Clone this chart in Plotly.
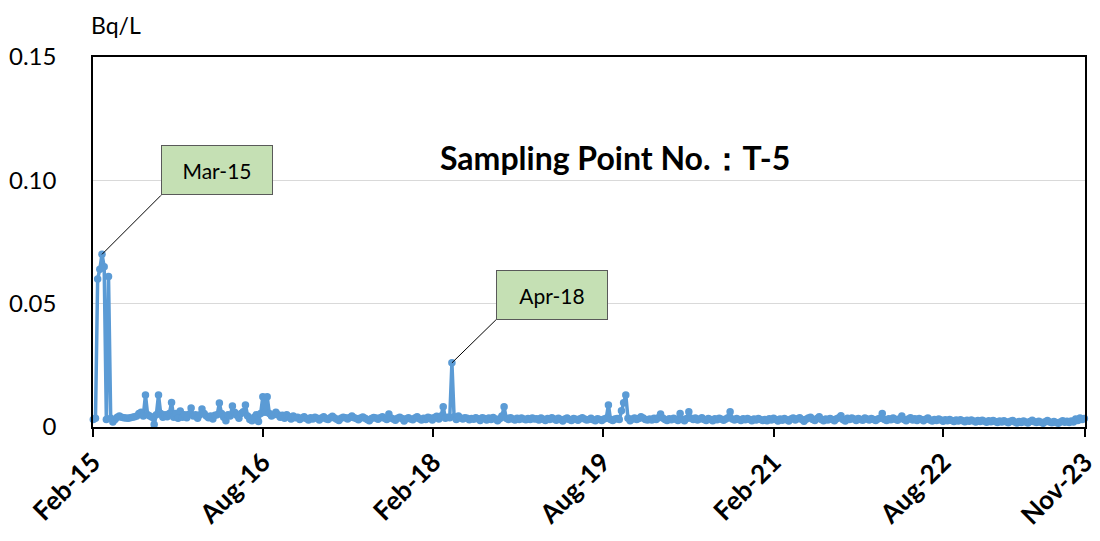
import numpy as np
import pandas as pd
import plotly.graph_objects as go

# Weekly readings in mBq/L, one block per calendar year (block start date, values)
v2015 = [3.0, 3.5, 60, 64, 70, 65, 3.0, 61, 3.5, 2.0, 3.0, 4.0, 4.5, 4.0, 3.8, 3.6,
         3.5, 3.8, 4.0, 4.2, 4.5, 5.5, 6.0, 4.5, 13.0, 5.0, 4.5, 4.0, 1.0, 5.0, 13.0, 5.5,
         4.0, 5.0, 4.2, 5.5, 9.9, 4.0, 5.5, 3.5, 6.5, 4.0, 5.0, 3.8, 5.2, 7.7, 4.5, 5.0]
v2016 = [3.5, 5.0, 7.3, 5.5, 4.5, 3.8, 4.5, 3.2, 4.8, 5.0, 9.7, 5.5, 4.0, 2.5, 5.0, 4.5,
         8.5, 6.0, 4.8, 3.5, 5.5, 6.2, 8.9, 4.5, 3.0, 2.5, 4.0, 5.0, 2.2, 5.5, 12.3, 6.0,
         12.3, 5.5, 4.5, 5.0, 6.0, 5.0, 4.0, 4.8, 3.5, 5.0, 4.2, 3.2, 4.5, 3.8, 4.0, 3.0,
         3.6, 4.2, 3.4, 2.8]
v2017 = [3.8, 3.2, 4.0, 3.5, 2.8, 3.6, 4.2, 3.3, 3.0, 3.8, 4.4, 3.6, 3.1, 2.6, 3.5, 4.0,
         3.7, 3.2, 3.9, 4.5, 3.8, 3.4, 2.9, 3.6, 4.1, 3.5, 3.0, 2.5, 3.4, 3.9, 3.6, 3.1,
         3.8, 4.2, 3.5, 3.0, 5.3, 3.6, 3.2, 2.7, 3.5, 4.0, 3.4, 2.4, 3.3, 3.8, 3.2, 2.9,
         3.6, 4.2, 3.3, 2.8]
v2018 = [3.5, 3.0, 4.0, 3.6, 2.8, 3.9, 4.4, 3.2, 4.5, 8.2, 3.5, 4.0, 3.8, 26.0, 4.2, 3.0,
         4.5, 3.6, 3.2, 3.8, 3.5, 2.9, 3.4, 3.1, 3.7, 3.3, 2.6, 3.8, 3.4, 2.8, 3.6, 3.0,
         3.9, 3.2, 2.5, 3.3, 4.5, 8.2, 3.5, 3.0, 3.8, 3.2, 2.8, 3.5, 3.0, 3.6, 3.2, 2.9,
         3.4, 3.0, 3.6, 3.2]
v2019 = [3.3, 2.8, 3.6, 3.1, 2.6, 3.4, 3.0, 3.7, 3.2, 2.7, 3.5, 3.0, 2.4, 3.2, 3.6, 3.0,
         2.6, 3.4, 3.1, 2.7, 3.3, 3.8, 3.2, 2.8, 3.0, 3.5, 2.9, 2.5, 3.3, 3.0, 2.6, 3.2,
         3.5, 8.9, 3.0, 2.6, 3.2, 3.4, 3.0, 6.6, 9.8, 13.0, 3.5, 2.5, 3.2, 3.6, 3.0, 3.4,
         4.2, 3.6, 3.0, 2.8]
v2020 = [3.2, 2.8, 3.5, 3.0, 3.8, 5.3, 3.6, 3.0, 2.6, 3.3, 2.9, 3.5, 3.1, 2.6, 5.5, 3.0,
         2.5, 3.4, 6.2, 3.5, 3.0, 3.6, 2.8, 3.2, 3.8, 3.0, 2.6, 3.4, 3.0, 2.5, 3.3, 2.9,
         3.5, 3.1, 2.7, 3.2, 3.8, 6.2, 3.2, 2.8, 3.4, 3.0, 2.6, 3.3, 2.9, 3.4, 3.0, 2.5,
         3.2, 2.8, 3.4, 3.0, 2.6]
v2021 = [3.0, 2.5, 3.3, 2.8, 3.5, 3.0, 2.4, 3.2, 2.7, 3.4, 2.9, 2.4, 3.2, 3.6, 2.8, 3.3,
         3.8, 3.0, 2.3, 3.1, 3.6, 4.0, 3.0, 2.6, 3.4, 4.2, 3.0, 2.5, 3.2, 2.8, 3.4, 3.0,
         2.5, 3.3, 3.8, 4.6, 2.9, 2.4, 3.5, 3.0, 3.6, 3.2, 2.6, 3.4, 3.0, 2.7, 3.6, 3.2,
         2.8, 3.4, 3.0, 2.6]
v2022 = [3.2, 3.5, 5.5, 3.0, 2.6, 3.3, 2.9, 3.6, 3.1, 2.7, 3.3, 4.5, 3.0, 2.5, 3.2, 3.7,
         2.8, 3.3, 2.6, 3.4, 3.0, 2.5, 3.1, 3.6, 2.8, 2.4, 3.0, 2.6, 3.2, 2.8, 2.3, 2.9,
         2.5, 3.0, 2.6, 2.2, 2.8, 2.4, 2.9, 2.5, 2.1, 2.7, 2.3, 2.8, 2.4, 2.0, 2.6, 2.2,
         2.7, 2.3, 1.9, 2.5]
v2023 = [2.1, 2.6, 2.2, 1.8, 2.4, 2.0, 2.5, 2.1, 1.7, 2.3, 2.6, 2.0, 1.6, 2.2, 1.8, 2.4,
         2.0, 1.6, 2.2, 2.7, 2.1, 1.8, 2.3, 1.9, 1.5, 2.1, 2.6, 2.0, 1.7, 2.2, 1.8, 1.5,
         2.0, 2.5, 1.9, 2.3, 1.8, 2.4, 2.0, 3.2, 2.6, 3.6, 3.0, 3.4]

blocks = [("2015-02-02", v2015), ("2016-01-04", v2016), ("2017-01-02", v2017),
          ("2018-01-01", v2018), ("2018-12-31", v2019), ("2019-12-30", v2020),
          ("2021-01-04", v2021), ("2022-01-03", v2022), ("2023-01-02", v2023)]

tick_dates = ["2015-02-01", "2016-08-01", "2018-02-01", "2019-08-01",
              "2021-02-01", "2022-08-01", "2023-11-01"]
tick_text = ["Feb-15", "Aug-16", "Feb-18", "Aug-19", "Feb-21", "Aug-22", "Nov-23"]
y_ticks = [0, 0.05, 0.10, 0.15]
y_text = ["0", "0.05", "0.10", "0.15"]

callout_dates = ["2015-03-02", "2018-04-02"]
callout_text = ["Mar-15", "Apr-18"]

dates = []
vals = []
for start, v in blocks:
    dates.extend(pd.date_range(start, periods=len(v), freq="7D"))
    vals.extend(v)
dates = pd.DatetimeIndex(dates)
y = np.array(vals) / 1000.0  # Bq/L
series = pd.Series(y, index=dates)

BLUE = "#5B9BD5"
FONT = "Lato"

fig = go.Figure()
fig.add_trace(go.Scatter(
    x=dates, y=y, mode="lines+markers",
    line=dict(color=BLUE, width=3.5),
    marker=dict(color=BLUE, size=7.5),
    showlegend=False, cliponaxis=False,
))

offsets = [(59, -59), (44, -43)]
for d, t, (ax, ay) in zip(callout_dates, callout_text, offsets):
    dt = pd.Timestamp(d)
    fig.add_annotation(
        x=dt, y=float(series.loc[dt]), xref="x", yref="y",
        text=t, showarrow=True, arrowhead=0, arrowwidth=1, arrowcolor="black",
        ax=ax, ay=ay, axref="pixel", ayref="pixel",
        xanchor="left", yanchor="bottom",
        bgcolor="#C5E0B4", bordercolor="#595959", borderwidth=1, borderpad=2,
        width=106, height=44,
        font=dict(family=FONT, size=21, color="black"),
    )

fig.add_annotation(
    xref="paper", yref="paper", x=0.526, y=0.787,
    text="<b>Sampling Point No.：T-5</b>", showarrow=False,
    font=dict(family=FONT, size=32, color="black"),
)
fig.add_annotation(
    xref="paper", yref="paper", x=0.0, y=1.086, xanchor="left", yanchor="middle",
    text="Bq/L", showarrow=False, xshift=-4,
    font=dict(family=FONT, size=23, color="black"),
)

# the page adds an 8px body margin, so the figure is sized and offset to match
fig.update_layout(
    width=1092, height=533,
    margin=dict(l=85, r=15, t=49, b=114),
    plot_bgcolor="white", paper_bgcolor="white",
    font=dict(family=FONT, color="black"),
)
fig.update_xaxes(
    type="date", range=["2015-02-01", "2023-11-01"], automargin=False,
    tickvals=tick_dates, ticktext=[f"<b>{t}</b>" for t in tick_text],
    tickangle=-45, tickfont=dict(family=FONT, size=26, color="black"),
    ticks="outside", ticklen=8, tickwidth=1.5, tickcolor="black",
    showline=True, linecolor="black", linewidth=1.5, mirror=True,
    showgrid=False, zeroline=False,
)
fig.update_yaxes(
    range=[0, 0.15], tickvals=y_ticks, ticktext=y_text, automargin=False,
    tickfont=dict(family=FONT, size=24, color="black"),
    ticklabelstandoff=30,
    showline=True, linecolor="black", linewidth=1.5, mirror=True,
    showgrid=True, gridcolor="#D9D9D9", gridwidth=1, zeroline=False,
)

fig.write_html("out.html")
